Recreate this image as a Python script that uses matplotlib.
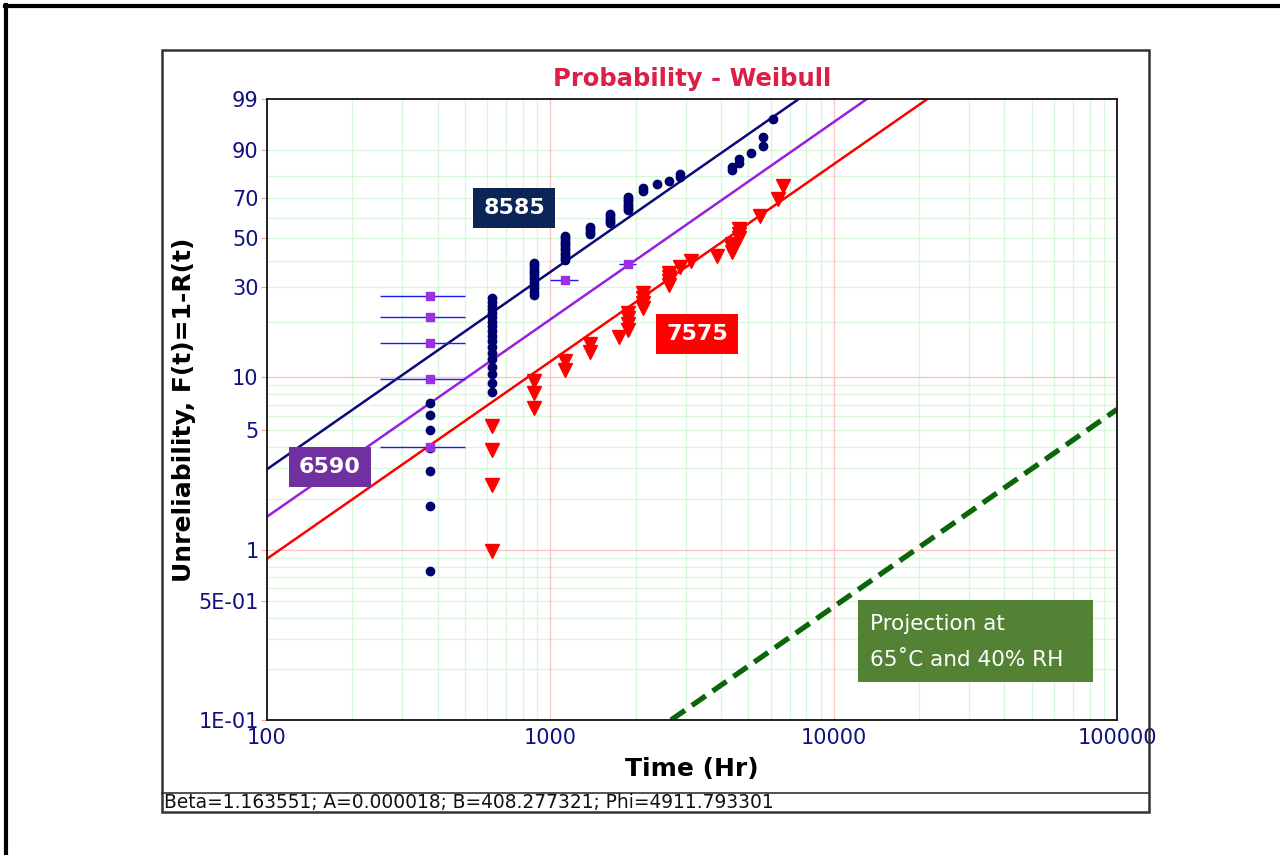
import numpy as np
import matplotlib
matplotlib.use("Agg")
import matplotlib.pyplot as plt
from matplotlib.lines import Line2D
from matplotlib.patches import Rectangle
from matplotlib.ticker import FixedLocator, FixedFormatter, NullLocator

# ---- data (time in hours, unreliability in %) ----
time_8585 = [375, 375, 375, 375, 375, 375, 375,
             625, 625, 625, 625, 625, 625, 625, 625, 625, 625, 625, 625, 625, 625, 625, 625, 625, 625,
             875, 875, 875, 875, 875, 875, 875, 875, 875, 875, 875, 875,
             1125, 1125, 1125, 1125, 1125, 1125, 1125, 1125, 1125, 1125, 1125,
             1375, 1375, 1375, 1375,
             1625, 1625, 1625, 1625, 1625,
             1875, 1875, 1875, 1875, 1875, 1875, 1875,
             2125, 2125, 2375, 2625, 2875, 2875,
             4375, 4375, 4625, 4625, 5125, 5625, 5625, 6125]
unrel_8585 = [0.75, 1.82, 2.89, 3.96, 5.03, 6.10, 7.17,
              8.24, 9.31, 10.39, 11.46, 12.53, 13.60, 14.67, 15.74, 16.81, 17.88, 18.95, 20.02,
              21.09, 22.16, 23.23, 24.30, 25.37, 26.45,
              27.52, 28.59, 29.66, 30.73, 31.80, 32.87, 33.94, 35.01, 36.08, 37.15, 38.22, 39.29,
              40.36, 41.43, 42.51, 43.58, 44.65, 45.72, 46.79, 47.86, 48.93, 50.00, 51.07,
              52.14, 53.21, 54.28, 55.35,
              57.49, 58.57, 59.64, 60.71, 61.78,
              63.92, 64.99, 66.06, 67.13, 68.20, 69.27, 70.34,
              73.5, 74.5, 76.4, 77.9, 79.8, 81.0,
              82.7, 84.1, 85.4, 87.0, 88.9, 91.3, 93.7, 97.0]

time_7575 = [625, 625, 625, 625, 875, 875, 875, 1125, 1125, 1375, 1375, 1750,
             1875, 1875, 1875, 1875, 2125, 2125, 2125, 2125, 2625, 2625, 2625, 2625,
             2875, 3125, 3875, 4375, 4375, 4375, 4625, 4625, 4625, 5500, 6375, 6625]
unrel_7575 = [0.99, 2.42, 3.84, 5.26, 6.68, 8.10, 9.52, 10.94, 12.36, 13.78, 15.20, 16.62,
              18.04, 19.46, 20.88, 22.30, 23.72, 25.14, 26.56, 27.98, 30.82, 32.24, 33.66, 35.08,
              37.5, 40.0, 42.1, 43.6, 45.5, 47.4, 50.0, 52.0, 54.6, 60.9, 69.2, 75.8]

time_6590 = [375, 375, 375, 375, 375, 1125, 1875]
start_6590 = [250, 250, 250, 250, 250, 1000, 1750]
end_6590 = [500, 500, 500, 500, 500, 1250, 2000]
unrel_6590 = [4.02, 9.72, 15.5, 21.1, 27.2, 32.6, 38.6]

# fitted lines, end points (time, %)
fit_8585_t = [100, 7530]
fit_8585_f = [2.97, 99]
fit_6590_t = [100, 13100]
fit_6590_f = [1.57, 99]
fit_7575_t = [100, 21420]
fit_7575_f = [0.89, 99]
proj_t = [2667, 100000]
proj_f = [0.1, 6.57]

y_ticks = [0.1, 0.5, 1, 5, 10, 30, 50, 70, 90, 99]
y_tick_labels = ["1E-01", "5E-01", "1", "5", "10", "30", "50", "70", "90", "99"]
x_ticks = [100, 1000, 10000, 100000]
x_tick_labels = ["100", "1000", "10000", "100000"]

grid_red_y = [1, 10]
grid_green_y = [0.2, 0.3, 0.4, 0.5, 0.6, 0.7, 0.8, 0.9, 2, 3, 4, 5, 6, 7, 8, 9,
                20, 30, 40, 50, 60, 70, 80, 90]
grid_red_x = [1000, 10000]
grid_green_x = [200, 300, 400, 500, 600, 700, 800, 900,
                2000, 3000, 4000, 5000, 6000, 7000, 8000, 9000,
                20000, 30000, 40000, 50000, 60000, 70000, 80000, 90000]


# Weibull probability axis: ln(-ln(1-F))
def weibull_fwd(p):
    p = np.clip(np.asarray(p, dtype=float), 1e-6, 99.99999)
    return np.log(-np.log(1 - p / 100.0))


def weibull_inv(y):
    return 100.0 * (1 - np.exp(-np.exp(np.asarray(y, dtype=float))))


W, H = 1280, 855
fig = plt.figure(figsize=(12.8, 8.55), dpi=100)

# outer frame and inner chart box
fig.add_artist(Line2D([5 / W, 1.0], [1 - 6 / H, 1 - 6 / H], transform=fig.transFigure, color="black", lw=3))
fig.add_artist(Line2D([6 / W, 6 / W], [0.0, 1 - 5 / H], transform=fig.transFigure, color="black", lw=3))
fig.add_artist(Rectangle((162 / W, 1 - 812 / H), (1149 - 162) / W, (812 - 50) / H,
                         transform=fig.transFigure, fill=False, ec="#333333", lw=1.8))
fig.add_artist(Line2D([162 / W, 1149 / W], [1 - 793 / H, 1 - 793 / H], transform=fig.transFigure,
                      color="#333333", lw=1.2))
fig.text(164 / W, 1 - 802 / H, "Beta=1.163551; A=0.000018; B=408.277321; Phi=4911.793301",
         ha="left", va="center", fontsize=13.4, color="#111111")

ax = fig.add_axes([267 / W, 1 - 720 / H, 850 / W, 621 / H])
ax.set_xscale("log")
ax.set_yscale("function", functions=(weibull_fwd, weibull_inv))
ax.set_xlim(100, 100000)
ax.set_ylim(0.1, 99)

# grid
for v in grid_green_y:
    ax.axhline(v, color="#daf6da", lw=1.0, zorder=0)
for v in grid_green_x:
    ax.axvline(v, color="#daf6da", lw=1.0, zorder=0)
for v in grid_red_y:
    ax.axhline(v, color="#ffc4c4", lw=1.0, zorder=0)
for v in grid_red_x:
    ax.axvline(v, color="#ffc4c4", lw=1.0, zorder=0)

# fitted lines
ax.plot(fit_8585_t, fit_8585_f, color="#0a0a78", lw=1.8, zorder=2)
ax.plot(fit_6590_t, fit_6590_f, color="#9a1ee0", lw=1.8, zorder=2)
ax.plot(fit_7575_t, fit_7575_f, color="#ff0000", lw=1.8, zorder=2)
ax.plot(proj_t, proj_f, color="#0b650b", lw=3.8, ls=(0, (3.2, 1.6)), zorder=2)

# data points
ax.plot(time_8585, unrel_8585, "o", color="#00006e", ms=6, zorder=3)
ax.plot(time_7575, unrel_7575, "v", color="#ff0000", ms=10, zorder=3)
ax.hlines(unrel_6590, start_6590, end_6590, color="#1a1aff", lw=1.0, zorder=4)
ax.plot(time_6590, unrel_6590, "s", color="#9a30e0", ms=6, zorder=5)

# axes styling
ax.xaxis.set_major_locator(FixedLocator(x_ticks))
ax.xaxis.set_major_formatter(FixedFormatter(x_tick_labels))
ax.xaxis.set_minor_locator(NullLocator())
ax.yaxis.set_major_locator(FixedLocator(y_ticks))
ax.yaxis.set_major_formatter(FixedFormatter(y_tick_labels))
ax.yaxis.set_minor_locator(NullLocator())
ax.tick_params(axis="x", length=0, pad=6, labelsize=15, labelcolor="#10107f")
ax.tick_params(axis="y", length=4, color="#ff9a9a", pad=2, labelsize=15, labelcolor="#10107f")
for s in ax.spines.values():
    s.set_color("#111111")
    s.set_linewidth(1.3)

ax.set_title("Probability - Weibull", color="#dc1f47", fontsize=17.5, fontweight="bold", pad=9)
ax.set_xlabel("Time (Hr)", fontsize=18, fontweight="bold", labelpad=6)
ax.set_ylabel("Unreliability, F(t)=1-R(t)", fontsize=18, fontweight="bold", labelpad=2)

# labels on the chart
ax.text(0.2906, 0.8245, "8585", transform=ax.transAxes, ha="center", va="center", color="white",
        fontsize=16, fontweight="bold", zorder=6,
        bbox=dict(boxstyle="square,pad=0.45", fc="#0b2559", ec="none"))
ax.text(0.0741, 0.4074, "6590", transform=ax.transAxes, ha="center", va="center", color="white",
        fontsize=16, fontweight="bold", zorder=6,
        bbox=dict(boxstyle="square,pad=0.45", fc="#7030a0", ec="none"))
ax.text(0.5059, 0.6216, "7575", transform=ax.transAxes, ha="center", va="center", color="white",
        fontsize=16, fontweight="bold", zorder=6,
        bbox=dict(boxstyle="square,pad=0.45", fc="#ff0000", ec="none"))

# projection note: box drawn as a patch, two text lines inside
ax.add_patch(Rectangle((0.6953, 0.0612), 0.2765, 0.132, transform=ax.transAxes,
                       fc="#548235", ec="none", zorder=6))
ax.text(0.7094, 0.1546, "Projection at", transform=ax.transAxes, ha="left", va="center",
        color="white", fontsize=15.5, zorder=7)
ax.text(0.7094, 0.0966, "65\u02daC and 40% RH", transform=ax.transAxes, ha="left", va="center",
        color="white", fontsize=15.5, zorder=7)

fig.savefig("out.png", dpi=100)
